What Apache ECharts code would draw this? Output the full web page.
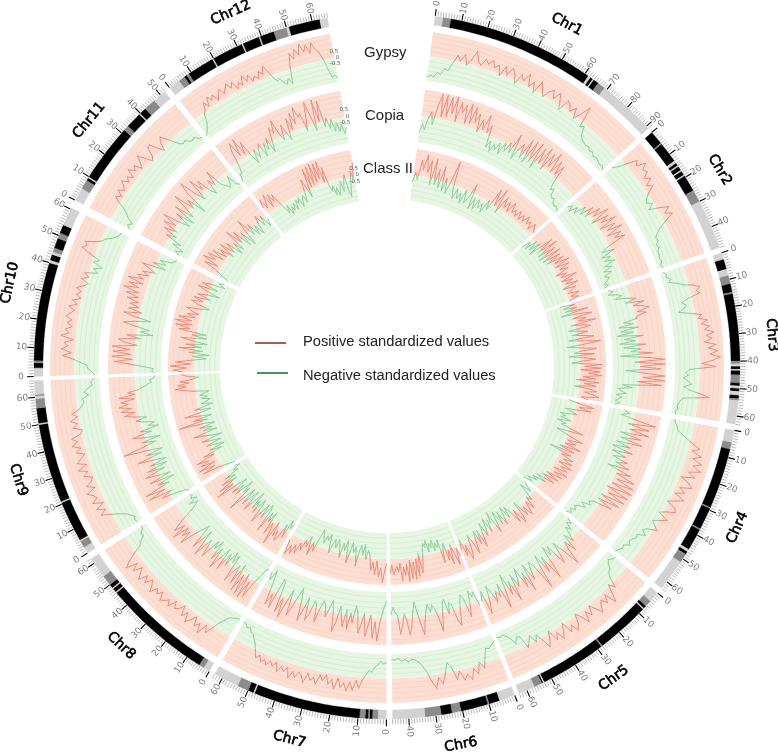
<!DOCTYPE html>
<html><head><meta charset="utf-8">
<style>html,body{margin:0;padding:0;background:#fff}#main{width:778px;height:754px;filter:blur(0.4px)}</style>
<script src="https://cdn.jsdelivr.net/npm/echarts@6/dist/echarts.min.js"></script>
</head><body><div id="main"></div>
<script>
const chromosomes=['Chr1','Chr2','Chr3','Chr4','Chr5','Chr6','Chr7','Chr8','Chr9','Chr10','Chr11','Chr12'];
const chrLengthMb=[91,48,63,63,63,46,63,62,66,60.5,52,66];
const chrStartDeg=[7.85,48.6,71.3,100.5,130,158.8,180.1,210.2,238,268.3,298,322];
const chrEndDeg=[47.7,70.4,99.5,129,158,179.1,209.2,236.9,267.6,296.6,321,350.3];
const trackNames=['Gypsy','Copia','Class II'];
const radialTicks=[-0.5,0,0.5];
const legendLabels=['Positive standardized values','Negative standardized values'];
// ideogram bands per chromosome: [startMb, endMb, stain]  K black, G grey, L light
const bands=[
[[0,3,'L'],[3,6,'G'],[6,61.5,'K'],[61.5,62.5,'L'],[62.5,63.5,'K'],[63.5,64,'L'],[64,66,'K'],[66,69,'G'],[69,91,'L']],
[[0,5,'K'],[5,5.5,'G'],[5.5,13,'K'],[13,14,'L'],[14,15,'K'],[15,15.5,'L'],[15.5,17,'K'],[17,17.5,'L'],[17.5,19,'K'],[19,19.5,'L'],[19.5,25.5,'K'],[25.5,30,'G'],[30,48,'L']],
[[0,2.5,'L'],[2.5,6.2,'K'],[6.2,8.6,'L'],[8.6,11.7,'G'],[11.7,14.8,'K'],[14.8,15.4,'G'],[15.4,40,'K'],[40,41,'G'],[41,42,'L'],[42,43,'K'],[43,43.5,'L'],[43.5,45,'K'],[45,48,'G'],[48,49,'K'],[49,50,'L'],[50,51,'K'],[51,52.5,'L'],[52.5,53.7,'K'],[53.7,54.4,'G'],[54.4,63,'L']],
[[0,4.5,'L'],[4.5,7,'G'],[7,29,'K'],[29,29.5,'G'],[29.5,37.5,'K'],[37.5,38,'G'],[38,46,'K'],[46,47,'L'],[47,48,'K'],[48,51.5,'G'],[51.5,63,'L']],
[[0,4,'L'],[4,6.5,'G'],[6.5,7.5,'K'],[7.5,8,'L'],[8,28,'K'],[28,28.5,'G'],[28.5,53,'K'],[53,53.5,'L'],[53.5,54,'K'],[54,57,'G'],[57,63,'L']],
[[0,6,'L'],[6,10,'K'],[10,10.5,'G'],[10.5,20.6,'K'],[20.6,24,'G'],[24,28,'K'],[28,34,'G'],[34,46,'L']],
[[0,3,'L'],[3,5,'G'],[5,6,'K'],[6,6.5,'G'],[6.5,7.5,'K'],[7.5,9.5,'G'],[9.5,47.5,'K'],[47.5,48,'L'],[48,50,'K'],[50,51,'G'],[51,54,'G'],[54,63,'L']],
[[0,2.5,'L'],[2.5,4.5,'G'],[4.5,46,'K'],[46,46.5,'L'],[46.5,48,'K'],[48,48.5,'L'],[48.5,50,'K'],[50,54,'G'],[54,62,'L']],
[[0,2.5,'L'],[2.5,5,'G'],[5,5.5,'L'],[5.5,20.5,'K'],[20.5,21,'L'],[21,50,'K'],[50,50.5,'L'],[50.5,56,'K'],[56,59.5,'G'],[59.5,60.5,'L'],[60.5,61,'G'],[61,66,'L']],
[[0,3,'L'],[3,4.7,'K'],[4.7,5.5,'G'],[5.5,40,'K'],[40,41,'L'],[41,43,'K'],[43,44,'L'],[44,45.5,'G'],[45.5,49,'K'],[49,51,'G'],[51,54,'K'],[54,60.5,'L']],
[[0,5,'L'],[5,8.5,'G'],[8.5,9.5,'K'],[9.5,10,'L'],[10,31.5,'K'],[31.5,33.5,'G'],[33.5,39.5,'K'],[39.5,40,'L'],[40,42.5,'K'],[42.5,47,'G'],[47,52,'L']],
[[0,4.5,'L'],[4.5,7,'G'],[7,8,'K'],[8,9,'G'],[9,19.5,'K'],[19.5,20,'L'],[20,32,'K'],[32,32.5,'L'],[32.5,39,'K'],[39,39.5,'L'],[39.5,45,'K'],[45,50,'G'],[50,51,'L'],[51,63,'K'],[63,66,'L']]
];
const gypsy=[
[-1.7,-1.5,-1.6,-1.2,-1.3,-.8,-.9,-.2,.5,.1,.7,-.1,.4,1.2,.5,.2,.8,.5,.9,.4,.7,-.1,.8,.2,.9,.5,-.2,.7,.3,1,.1,.6,-.2,.9,.4,-.1,.5,.8,.2,.9,.3,-.3,.7,.5,.1,.6,-.2,.4,1.3,-.4,-.2,-.9,-1.1,-1.2,-1.3,-1.2,-1.4,-1.3,-1.5,-1.4,-1.5,-1.6,-1.5,-1.7],
[-1,-.6,.2,.9,.6,1.3,.8,1,.5,.9,.3,.7,.1,-.3,-.5,-.1,-.6,.2,.9,.4,.9,.2,-.5,-.9,-1.2,-1.1,-1.4,-1.3,-1.5,-1.5,-1.6,-1.5,-1.7,-1.6],
[-1.7,-1.5,-1.6,-1.3,-1.5,-.9,-.5,.3,.8,.5,.7,-.4,-.9,-.6,-.8,-1.3,-.4,.5,.2,.9,.4,1,.6,1.3,.7,1.1,.5,1.4,.8,1.5,.9,1.7,1.1,.2,1.3,-.8,-1.1,-.9,-1.3,-.9,-.6,-1.2,-.8,.2,.9,-1.2,-1.4,-1.5,-1.6,-1.5,-1.7,-1.6],
[-1.6,-1.5,-1.3,-1.2,-.8,-.3,.3,.9,.4,1.2,.6,1.4,.8,1.5,.6,1.2,.2,.9,1.3,.4,.9,.2,1.1,.5,-.1,.7,.9,.2,-.3,.6,.1,-.4,-.1,.3,-.5,-.7,-.3,-.9,-.8,-1,-1.1,-.9,-1.3,-1.2,-1.4,-1.5],
[-1.2,-1.3,-1.5,-1.3,-.9,-.8,-.4,.4,-.1,.6,1.3,.3,.9,.4,.7,1.2,.6,.1,.8,.3,1.1,.4,-.1,.7,1.1,.5,.9,-.1,.5,1,.3,.8,-.2,.5,1,.2,-.4,.1,-.6,-.2,.2,-.9,-1,-.5,-1.1,-1.4,-1.6,-1.5,-1.6],
[-1.4,-1.2,-1,-1.1,-.4,.4,-.2,.7,.2,1,.5,.9,.1,.7,-.4,-.8,.1,.8,.3,1.1,.5,-.3,-.8,-1.2,-1.4,-1.5,-1.3,-1.5,-1.4,-1.6,-1.5,-1.5],
[-1.3,-1.2,-1.4,-1.1,-.9,-.5,-.6,-.2,.2,.9,.3,1.1,.5,1.2,.6,1,.3,1.2,.5,.9,.2,.7,.3,1.1,.6,.9,.4,1.2,.7,.5,1,.6,1.2,.4,.8,.5,1,.3,.7,.4,.8,.5,.7,.3,.6,.1,-.4,-.7,-1,-1.1,-1.4,-1.3,-1.5,-1.6],
[-1.6,-1.5,-1.4,-1.3,-.9,-.5,.2,.8,.3,1.2,.5,.9,.2,.7,1.1,.4,.9,.1,.6,.8,.3,1,.6,.9,1.1,.5,.9,.6,1.2,.7,.4,1,.5,1.2,.8,.4,1.1,.5,1.4,.9,.2,-.6,-.8,-1.3,-1.2,-1.5,-1.6],
[-1.5,-1.4,-1.5,-1.3,-1,-.5,.1,.8,.3,.9,.2,1,.5,.7,1.1,.3,.9,.4,.2,.8,.4,1.1,.3,1,.6,.2,.8,.4,1,.5,.9,.1,-.1,.6,.2,.7,.1,.5,-.1,-.4,-.6,-.5,-1,-.7,-1,-1.4,-1.3,-1.6],
[-1.6,-1.4,-1.1,-1,-.5,.1,1,.3,1.1,.6,.9,.2,1.2,.6,.9,.4,.8,.5,1,.7,.4,.9,.3,.7,.1,.5,.2,.6,.1,-.2,.4,-.1,.3,-.7,-.3,-.9,-.1,-.5,.4,1.2,.9,1.1,.4,-.1,-.3,-.7,-1,-1.2,-1.3],
[-1.7,-1.4,-1.7,-1.2,-.9,-.5,.2,.6,.2,.7,.3,.5,.9,.4,.7,.3,1,.5,.8,.2,.6,1.1,.5,-.1,.2,.9,1,.3,-.2,.5,.8,.3,-.2,-.7,-.9,-.8,-1.1,-1.2,-1.1,-1.4,-1.5],
[-1.6,-1.4,-1.1,-.8,-.1,.1,.7,.2,.9,.5,.8,.2,.6,.9,.4,.7,1,.5,.9,.2,.6,.3,1,.4,.8,.2,.5,.2,.7,.4,1,.4,-.2,-.6,-.5,-.9,-1.1,-.7,-1.2,.2,1.2,.7,1.4,.9,1.7,1,1.5,.8,1.6,1,.7,.1,-.8,-1.5,-1.4,-1.6]
];
const copia=[
[-1.2,-.6,-1,-.1,.4,-.5,.9,1.9,.2,1.9,.3,1.8,.6,1.9,.1,1.6,.9,1.5,.2,1.7,.3,1.6,.5,1.2,-.1,.9,.2,1.4,.1,.7,-.9,-.4,-1.1,-.5,-.8,-.2,-1,0,-.6,.2,-.5,1.1,-.8,.1,.6,-.4,1.2,-.6,1.3,-.3,1.4,-.6,1.2,0,1.5,-.2,1.3,.3,1.6,.1,1.2,.2,1,-.4,-.9,-.7,-1.2,-1.3,-1.2,-1.5,-1.6,-1.5,-1.6,-1.7],
[-.9,-.6,-1,-.4,-.8,.1,-.5,.5,-.3,.9,.2,1.4,-.2,1.1,.4,1.5,.1,1.2,.5,1.6,.3,1.3,.7,1.4,-.2,-.7,.2,-.9,-.3,-.8,-.1,-1,-.5,-1.2,-.7,-1.3,-1,-1.2,-1.5,-1.3,-1.6],
[-1.4,-1.1,-1.5,-.9,-.6,-1.1,-.2,.4,-.4,.9,.1,.8,1.2,.3,.9,.2,.1,-.9,-.2,-1.3,.1,-1.2,-.3,-1.5,.4,-1,-.2,-1.4,.5,-1.1,.1,-.6,1,-1.4,.7,1.9,-.3,1.9,.1,1.6,-1,.4,1.9,.3,1.9,-.1,1.7,-1.2,-.5,-1.5,-1.3,-.9,-1.6,-1.2,-1.4,-1.6,-1.3,-1.6],
[-.8,-.4,-1,.1,1.7,-.3,1.3,-.1,1.4,-.7,.9,-.6,1.1,-.8,.3,-1,.6,-.9,.2,-.7,.5,-.3,.8,-.8,1.1,.1,1.6,.3,1.7,.1,1.8,-.1,1.7,.2,1.6,-.2,1.4,-.2,1,-.4,-.7,-.5,-1.1,-.7,-1.2,-1.4,-1.2,-1.5,-1.3,-1.6],
[-1.2,-.8,-1.1,-.5,-.9,-.3,.2,-.6,.8,-.2,.4,1.6,.2,-.7,.3,.9,-.8,-.2,-1,.4,1.5,-.5,.7,-.9,.2,1.7,-.3,-.8,-.2,.5,-.9,1.2,-.4,.7,-1,-.2,.3,-.7,1.3,-.4,.6,-1.1,.2,1.4,-.6,.3,-.2,.6,-.3,-.8,.4,1.2,-.6,.1],
[.3,-.8,-.5,-1,.1,.9,-.6,-.9,-.4,.3,1.3,.9,-.4,-.6,.2,-.9,-.7,.3,1.4,.2,-.4,-.7,-.2,-.8,-.3,.4,1.4,.6,-.3,-1.1,-.4,.7,1.3,.2,-.3,.6,1.2,-.2,-.4,-.8,-.3],
[-1.3,-.9,-.3,.4,1.7,.3,1.5,-.2,.6,1.4,-.3,.5,1.2,-.3,-.8,.5,-.2,1,-.4,.9,.2,-.6,.7,1.4,-.1,-.9,-.2,.4,-.4,-.7,-.1,1,-.3,-.5,.6,1.1,-.6,.4,1.3,-.3,-1.1,-.4,.5,1.2,-.7,.3,1.6,.2,1.3,-1,-1.2,1.2,.2,1.1,-.5,-1.5,-.7,-1.2],
[-1.3,-1.1,-.4,.2,1.5,.3,1.7,-.2,1.6,.1,1.5,-.6,1.1,-.3,.2,1.2,-.9,-.2,-1,.3,-.6,.9,-.8,.1,1.1,-.5,.6,-.9,-.1,-.7,.9,.2,-.4,1.2,.1,-.8,.9,-.2,-1,-.4,.3,1.4,.4,1,.3,1.6,.4,1.2,.7,.1,-.7,-1.2,-1.5,-.9,-1.6,-1.2,-1.4,-1.3],
[-1.4,-1.2,-.5,.6,-.3,1.5,.2,1.6,-.4,.4,-1,.9,-.8,.2,1,-.6,.7,-.9,.3,-1,-.1,1.1,-.8,.3,-1,.1,1.9,.4,-.7,.3,-1.1,.1,.9,-.6,.2,-1.2,-.5,-1,-.2,.3,-.5,.4,1.1,.3,1.3,.5,1.4,.7,1.2,.2,1.3,.1,.6,-.2,-.6,-.9,-1.2,-1.1,-1.4,-1.5],
[-1.5,-1.3,-1.4,-.6,.4,1.5,.2,1.7,.3,1.6,.4,1.7,-.1,.9,1.3,-.3,.7,-1.2,-.3,-.9,.1,1.1,.3,-.9,.4,1.2,-.1,.9,.2,.9,.3,1.2,.4,1.4,.5,1.7,.6,1.4,.4,1.6,.5,1,.2,.7,-.2,.3,1,-.8,.2,-.7,-.2,-1,-1.2,-1.3],
[-1.2,-.9,-1.4,-.5,-1,.3,-.4,.7,-.2,1,.1,1.3,0,-.8,.5,-.9,.9,-.6,.2,1.4,-.2,.5,-1,.9,1.7,.3,-.4,1.3,.2,.9,-.3,-.7,.4,-.2,.9,-.5,-.8,-1.1,-.9,-.4,-1.2,-1.4],
[-1.4,-.9,-.8,-.2,.9,1.5,.3,1.6,.2,1.1,-.2,-.9,.1,-.6,0,.3,-.8,.1,-.4,.4,-.8,.1,1,.5,1.4,.2,-.3,.8,.1,-.5,1.1,.2,1.4,.5,1.7,.9,1.1,-.3,.7,1.8,.6,-.5,1.8,.1,1.6,-.4,.2,-.6,0,-.9,-.3,-1,-.5,-1.2,-.8]
];
const classII=[
[-.5,.2,-.3,1.2,.5,1.7,.4,1.3,-.5,1.5,-.4,.8,-.6,1.1,-.7,.3,-.8,.1,1.8,-.3,-1,-.2,-.9,-.4,-1.1,0,-1,-.5,.7,-1.2,-.3,-1.1,-.2,-.8,-.4,-1,.1,-.6,1.3,0,1.5,-.4,1.1,.3,.9,.2,1.1,.4,.7,.3,.9,.3,.8,.4,1,.5,.8,.3,.9,.6,.4],
[-1,-.3,-.9,.1,-.7,.2,-.9,1.1,-.3,1.3,-.5,.9,-.6,1.2,-.4,1,-.2,1.1,.3,1.4,.2,1.2,.4,1,-.1,.7,.2,1.4,.1,.9,.3,1.2,-.1,.9,.5,.2,1,.3,.8,.1],
[-.8,.3,-.6,.4,-.5,1.2,-.9,.6,1.4,-.1,.9,.3,1.6,-.3,.7,1.1,-.6,.2,.8,-.4,.5,1.2,-.7,.3,1.7,.5,-.9,.2,1.3,.1,-.4,1.1,-.8,.4,1.2,.1,-.6,1.7,.4,1.6,.1,1.5,.7,1.7,.3,1.2,-.2,1.5,.4,1.3,-.3,.9,1.4,.5,1.2,1.6,.3,.8],
[-.6,.2,1.4,.3,1.2,-.7,-.2,.2,-1,-.6,-.9,-.1,-1.1,-.4,-.7,.1,1.1,-.9,-.3,.4,1.3,.2,.9,.1,1.4,-.2,1,-.9,.9,.2,1.2,.5,1.3,.3,1.4,.6,1.2,.2,1.4,.4,1.1,-.1,1,-.3,.8,-.6,.2,-.8,-.4,-1.1,-.6,-1.3],
[-1,-.7,-.2,-1.1,-.3,.3,-.1,.8,.1,.6,1.1,.3,.9,-.5,.7,1.2,-.1,.9,-.2,-.7,.1,-.9,-.3,.4,-.8,.2,-1,-.3,.6,-1.2,-.4,-.7,.2,-1,-.2,.3,-.8,.1,1,-.4,.6,-.5,.3,1.2,.1,-.4,.9,1.4,.2,1,-.3,.4],
[.8,.2,1.4,.5,-.3,1.2,.1,.8,-.5,-.1,.9,-.9,-.4,-.7,-.2,-1,-.5,-.8,-.2,-1.1,-.6,-.9,-.3,.6,1.3,-.2,1.5,.2,1.7,.4,1.6,.2,1.8,.5,1.3,.7,1.7,.4,1,.6,.9,1.2,.5,1.1],
[.4,.9,1.8,.7,1.4,.2,1.2,.3,.9,-.2,-.6,.1,-1,-.2,-.9,-.4,.7,-.7,-.3,-1,-.2,.6,-1.1,-.3,-.8,.3,-.6,-1,-.3,-.9,-.5,.2,-1.2,-.7,-1,-.4,-.9,-1.3,-.6,.5,-.2,.9,-.5,.4,-.1,.8,.3,1.2,.6,1.4,.8,1.6,.5],
[-.7,-.3,-.9,.6,-.4,.8,1.1,.4,.9,-.2,1.7,.6,.1,1.1,-.7,.2,-.5,1.2,-.6,-1,.3,-.8,.1,1,-.4,-.9,.4,-.6,.2,-1.2,-.2,.7,-1,-.4,.5,-.9,.1,1.4,-.7,-.2,-1.2,.3,-.5,.5,-1,-.1,1.6,.1,1.2,-.4,.8,-.5,.3,-.9,-.6,-1.2,-.9],
[-1,-.4,.2,1.5,.5,1.7,.3,1.4,.7,1.6,.1,.9,-.7,.2,-1,-.4,.3,-.9,-.2,.5,-1.1,-.3,.2,1,-.9,.1,-.6,.3,-.9,-.2,1.8,-.4,.6,-.8,.1,1.2,-.3,-.9,.3,-.5,-1.1,-.3,-.7,-1,-.4,-.8,-.3,-.6,-1,.2,.9,1.5,.7,1.3,.5,1.1,.2,-.3,.6,1],
[.9,1.6,.6,1.8,.3,1.4,.2,-.9,.1,-1.1,.4,-.6,1.2,-.5,.7,-.9,.2,1.1,-.8,.3,-.7,1.4,.6,1.7,.5,1.8,.6,1.6,.4,1,.2,.8,1.2,.1,-.5,.5,1,.2,.9,-.3,.7,.1,-.9,.3,.9,-.6,.7,.1,-1,-.5,-.8],
[-1,-.4,.2,1.3,.3,1.6,.7,1.4,.2,1.2,.1,.8,-.3,1,-.2,.7,-.7,.2,-.6,1.2,-.2,.8,-.8,.3,-1,.1,1.1,-.5,.4,-.7,0,-.9,-.1,.5,-.5,.2,-.8,-.3],
[.6,1.2,.4,.9,1.4,.2,1.2,.5,1,.2,-.3,-.9,-.3,-1.1,-.6,-.9,-.4,-1,-.3,-.6,-.2,-1,-.5,-.2,-.8,-.1,.9,.2,-.6,1.6,.1,1.7,.2,1.8,.3,1.7,.5,1.8,.1,1.2,-.3,-.7,-.4,-1.1,-.6,-1.2,-.7,-.2,-1,-.3,.2,-1.2,-1.5,-.6,.4,-.2,1]
];
const tracks=[gypsy,copia,classII];

// ---------- layout ----------
const CENTER=[387,366], ORIGIN=350.5;
const ringRadii=[[288,337],[226,279],[167,219]];
const ideoRadius=[344,353];
const STAIN={K:'#000000',G:'#8b8b8b',L:'#d2d2d2'};
const toAxis=t=>((t-ORIGIN)%360+360)%360;
const posToAxis=(c,mb)=>toAxis(chrStartDeg[c]+(chrEndDeg[c]-chrStartDeg[c])*mb/chrLengthMb[c]);
const rad=d=>d*Math.PI/180;

function arcPoints(api,a0,a1,v){const n=Math.max(2,Math.ceil((a1-a0)/0.5));const out=[];for(let i=0;i<=n;i++)out.push(api.coord([v,a0+(a1-a0)*i/n]));return out;}
function bandPolygon(api,a0,a1,v0,v1,style){return {type:'polygon',shape:{points:arcPoints(api,a0,a1,v1).concat(arcPoints(api,a0,a1,v0).reverse())},style};}

const polar=[],angleAxis=[],radiusAxis=[],series=[];
ringRadii.forEach((rr,i)=>{
  polar.push({center:CENTER,radius:rr});
  angleAxis.push({polarIndex:i,type:'value',min:0,max:360,startAngle:90-ORIGIN+360,show:false});
  radiusAxis.push({polarIndex:i,type:'value',min:-2,max:2,interval:.5,
    axisLine:{show:false},axisTick:{show:false},splitLine:{show:false},z:20,
    axisLabel:{show:true,fontSize:5.5,color:'#555',margin:-4,padding:[5,0,0,3],fontFamily:'DejaVu Sans',showMinLabel:false,showMaxLabel:false,
      formatter:v=>radialTicks.includes(v)?String(v):''}});
  series.push({type:'custom',coordinateSystem:'polar',polarIndex:i,silent:true,animation:false,clip:false,z:1,
    data:chromosomes.map((n,c)=>[toAxis(chrStartDeg[c]),toAxis(chrEndDeg[c])]),
    renderItem(p,api){const a0=api.value(0),a1=api.value(1);const ch=[
      bandPolygon(api,a0,a1,0,2,{fill:'#fcdfd2'}),bandPolygon(api,a0,a1,-2,0,{fill:'#e6f6e2'})];
      [.4,.8,1.2,1.6].forEach(v=>ch.push({type:'polyline',shape:{points:arcPoints(api,a0,a1,v)},style:{fill:null,stroke:'#f8d0c1',lineWidth:.7}}));
      [-.4,-.8,-1.2,-1.6].forEach(v=>ch.push({type:'polyline',shape:{points:arcPoints(api,a0,a1,v)},style:{fill:null,stroke:'#cfeacb',lineWidth:.7}}));
      return {type:'group',children:ch};}});
  const segs=[];
  tracks[i].forEach((vals,c)=>{for(let k=0;k<vals.length-1;k++){
    segs.push([posToAxis(c,k/(vals.length-1)*chrLengthMb[c]),vals[k],posToAxis(c,(k+1)/(vals.length-1)*chrLengthMb[c]),vals[k+1]]);}});
  series.push({type:'custom',coordinateSystem:'polar',polarIndex:i,silent:true,animation:false,clip:false,z:2,name:trackNames[i],
    data:segs,
    renderItem(p,api){const a0=api.value(0),v0=api.value(1),a1=api.value(2),v1=api.value(3);
      const A=api.coord([v0,a0]),B=api.coord([v1,a1]);
      const col=v=>v>=0?'#ef8b7e':'#8fcf9f';
      const line=(P,Q,c)=>({type:'line',shape:{x1:P[0],y1:P[1],x2:Q[0],y2:Q[1]},style:{stroke:c,lineWidth:1,lineCap:'round'}});
      if(v0*v1>=0&&!(v0===0&&v1===0))return line(A,B,col(v0+v1));
      const t=v0/(v0-v1),M=[A[0]+(B[0]-A[0])*t,A[1]+(B[1]-A[1])*t];
      return {type:'group',children:[line(A,M,col(v0)),line(M,B,col(v1))]};}});
});
// ideogram polar
const I=ringRadii.length;
polar.push({center:CENTER,radius:ideoRadius});
angleAxis.push({polarIndex:I,type:'value',min:0,max:360,startAngle:90-ORIGIN+360,show:false});
radiusAxis.push({polarIndex:I,type:'value',min:0,max:1,show:false});
const bandData=[];bands.forEach((list,c)=>list.forEach(b=>bandData.push([posToAxis(c,b[0]),posToAxis(c,b[1]),b[2]])));
series.push({type:'custom',coordinateSystem:'polar',polarIndex:I,silent:true,animation:false,clip:false,z:3,
  data:bandData,dimensions:['a0','a1',{name:'s',type:'ordinal'}],
  renderItem(p,api){const b=bandData[p.dataIndex];const f=STAIN[b[2]];
    return bandPolygon(api,b[0],b[1],0,1,{fill:f,stroke:f,lineWidth:.3});}});
const tickData=[];chromosomes.forEach((n,c)=>{for(let m=0;m<=Math.floor(chrLengthMb[c]);m++)tickData.push([posToAxis(c,m),m%10===0?1:0,m,c]);});
series.push({type:'custom',coordinateSystem:'polar',polarIndex:I,silent:true,animation:false,clip:false,z:3,
  data:tickData,
  renderItem(p,api){const a=api.value(0),major=api.value(1);
    const P=api.coord([1.05,a]),Q=api.coord([major?1.8:1.6,a]);
    return {type:'line',shape:{x1:P[0],y1:P[1],x2:Q[0],y2:Q[1]},style:{stroke:major?'#000':'#a8a8a8',lineWidth:major?1.1:.8}};}});
series.push({type:'custom',coordinateSystem:'polar',polarIndex:I,silent:true,animation:false,clip:false,z:4,
  data:tickData.filter(t=>t[1]),
  renderItem(p,api){const d=tickData.filter(t=>t[1])[p.dataIndex];const a=d[0];const th=(a+ORIGIN)%360;
    const P=api.coord([1+13/9,a]);const rot=th<=180?90-th:270-th;
    return {type:'text',x:P[0],y:P[1],rotation:rad(rot),silent:true,
      style:{text:String(d[2]),fill:'#808080',fontSize:9,fontFamily:'DejaVu Sans',align:'center',verticalAlign:'middle'}};}});
series.push({type:'custom',coordinateSystem:'polar',polarIndex:I,silent:true,animation:false,clip:false,z:4,
  data:chromosomes.map((n,c)=>[toAxis((chrStartDeg[c]+chrEndDeg[c])/2),c]),
  renderItem(p,api){const a=api.value(0),c=api.value(1);const th=(a+ORIGIN)%360;
    const P=api.coord([1+33/9,a]);const rot=(th>90&&th<270)?180-th:-th;
    return {type:'text',x:P[0],y:P[1],rotation:rad(rot),silent:true,
      style:{text:chromosomes[c],fill:'#000',fontSize:14,fontFamily:'DejaVu Sans',align:'center',verticalAlign:'middle',stroke:'#000',lineWidth:.6}};}});

const txt=(x,y,t)=>({type:'text',x,y,silent:true,style:{text:t,fill:'#222',fontSize:15,fontFamily:'Liberation Sans',verticalAlign:'middle'}});
const graphic=[
  txt(364,53,trackNames[0]),txt(365,116,trackNames[1]),txt(363,169,trackNames[2]),
  {type:'line',silent:true,shape:{x1:255,y1:343,x2:286,y2:343},style:{stroke:'#a62a2a',lineWidth:1.6}},
  {type:'line',silent:true,shape:{x1:257,y1:373,x2:288,y2:373},style:{stroke:'#1d7a30',lineWidth:1.6}},
  {type:'text',x:303,y:342,silent:true,style:{text:legendLabels[0],fill:'#222',fontSize:14.7,fontFamily:'Liberation Sans',verticalAlign:'middle'}},
  {type:'text',x:303,y:376,silent:true,style:{text:legendLabels[1],fill:'#222',fontSize:14.7,fontFamily:'Liberation Sans',verticalAlign:'middle'}}
];
const chart=echarts.init(document.getElementById('main'));
chart.setOption({animation:false,backgroundColor:'#fff',polar,angleAxis,radiusAxis,series,graphic});
</script></body></html>
